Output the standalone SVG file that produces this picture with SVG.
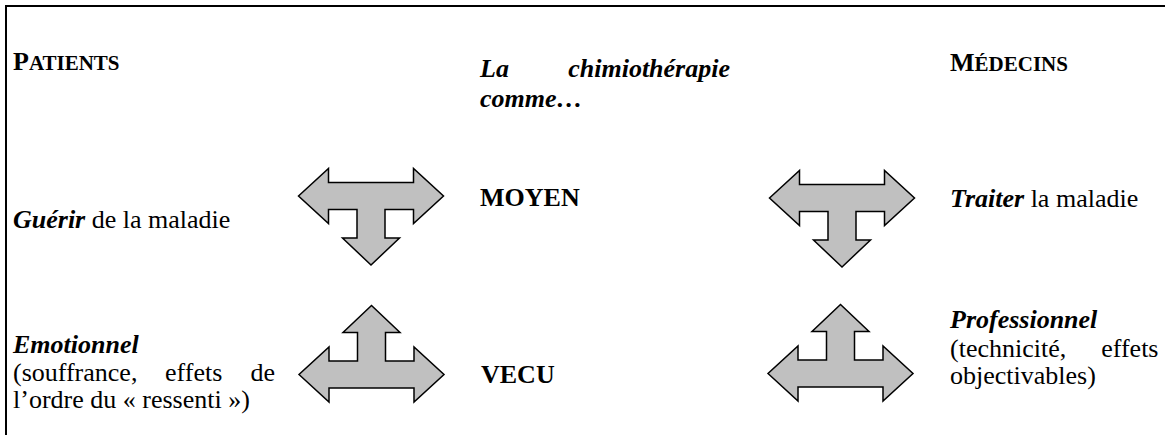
<svg xmlns="http://www.w3.org/2000/svg" width="1165" height="435" viewBox="0 0 1165 435">
<style>
.t{font-family:'Liberation Serif',serif;font-size:26px;fill:#000}
.b{font-weight:bold}
.bi{font-weight:bold;font-style:italic}
.sc{font-size:21px}
.arrow{fill:#c0c0c0;stroke:#000;stroke-width:1.5;stroke-linejoin:miter}
</style>
<defs>
<path id="tarrow" d="M-72.5,0 L-42.5,-27.5 L-42.5,-13.5 L42.5,-13.5 L42.5,-27.5 L72.5,0 L42.5,27.5 L42.5,13.5 L14,13.5 L14,42 L28.5,42 L0,69 L-28.5,42 L-14,42 L-14,13.5 L-42.5,13.5 L-42.5,27.5 Z"/>
</defs>
<rect x="6" y="6" width="1300" height="600" fill="#fff" stroke="#000" stroke-width="2"/>
<g id="connectors">
<use href="#tarrow" class="arrow" transform="translate(371,196)"/>
<use href="#tarrow" class="arrow" transform="translate(371.5,374.5) scale(1,-1)"/>
<use href="#tarrow" class="arrow" transform="translate(842,198)"/>
<use href="#tarrow" class="arrow" transform="translate(840.5,373.5) scale(1,-1)"/>
</g>
<g class="t" font-family="Liberation Serif, serif">
<g id="patients"><text x="13" y="70" class="b">P<tspan class="sc">ATIENTS</tspan></text></g>
<g id="chimio">
<text x="480" y="77" class="bi">La</text>
<text x="730" y="77" class="bi" text-anchor="end">chimiothérapie</text>
<text x="480" y="106.5" class="bi">comme…</text>
</g>
<g id="medecins"><text x="950" y="71" class="b">M<tspan class="sc">ÉDECINS</tspan></text></g>
<g id="guerir"><text x="13" y="228"><tspan class="bi">Guérir</tspan> de la maladie</text></g>
<g id="moyen"><text x="480" y="206" class="b">MOYEN</text></g>
<g id="traiter"><text x="950" y="207"><tspan class="bi">Traiter</tspan> la maladie</text></g>
<g id="emotionnel">
<text x="13" y="353" class="bi">Emotionnel</text>
<text x="13" y="381">(souffrance,</text>
<text x="165" y="381">effets</text>
<text x="275" y="381" text-anchor="end">de</text>
<text x="13" y="408">l’ordre du « ressenti »)</text>
</g>
<g id="vecu"><text x="481" y="382.5" class="b">VECU</text></g>
<g id="professionnel">
<text x="950" y="328" class="bi">Professionnel</text>
<text x="950" y="356.5">(technicité,</text>
<text x="1158.5" y="356.5" text-anchor="end">effets</text>
<text x="950" y="384">objectivables)</text>
</g>
</g>
</svg>
